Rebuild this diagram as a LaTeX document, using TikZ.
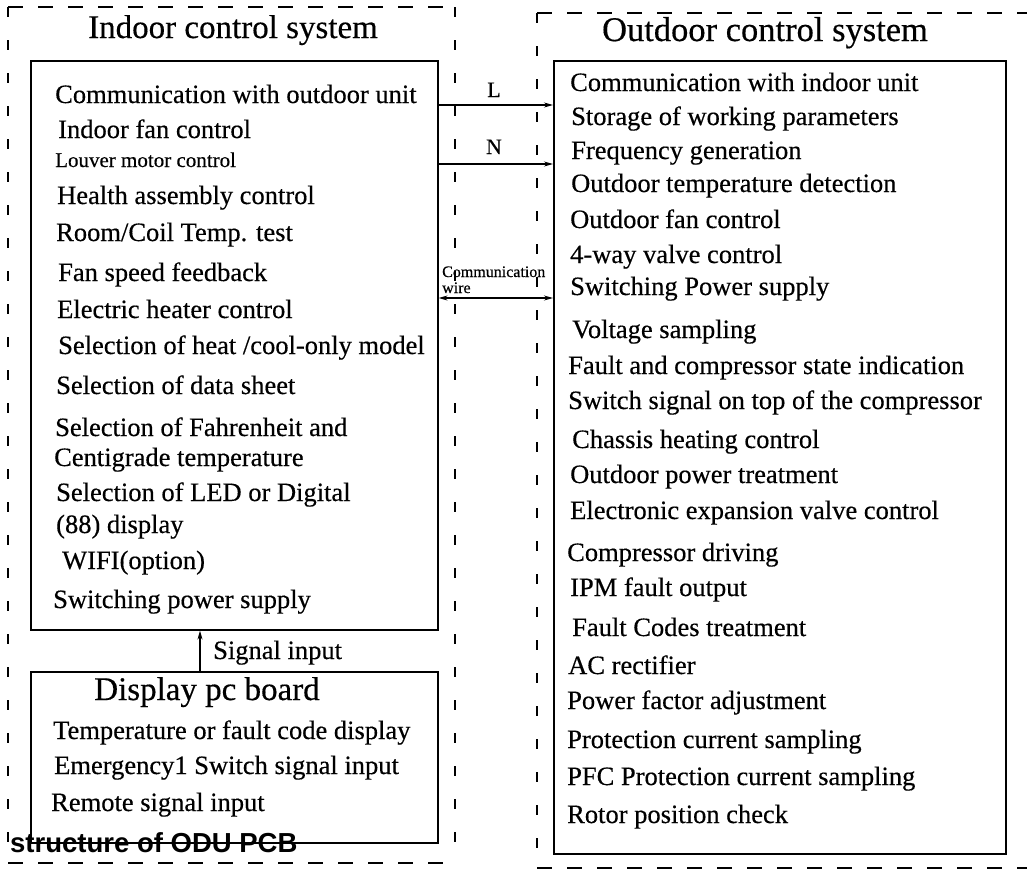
\documentclass[tikz,border=0pt]{standalone}
\usepackage{fontspec}
\setmainfont{Liberation Serif}[FakeBold=0.4]
\newfontfamily\capfont{Liberation Sans}
\usetikzlibrary{arrows.meta}
\begin{document}
\begin{tikzpicture}[x=1pt,y=-1pt,
  item/.style={anchor=base west, inner sep=0pt, font=\fontsize{26.5}{26.5}\selectfont},
  smallitem/.style={anchor=base west, inner sep=0pt, font=\fontsize{21}{21}\selectfont},
  ttl/.style={anchor=base, inner sep=0pt, font=\fontsize{33}{33}\selectfont},
  solidbox/.style={draw, line width=1.6pt, anchor=north west, inner sep=0pt},
  hdash/.style={line width=1.4pt, dash pattern=on 15pt off 15pt},
  vdash/.style={line width=1.4pt, dash pattern=on 10pt off 23pt},
  wire/.style={line width=1.2pt, -{Stealth[length=9pt,width=5pt]}},
  wire2/.style={line width=1.2pt, {Stealth[length=9pt,width=5pt]}-{Stealth[length=9pt,width=5pt]}}
]
\clip (0,0) rectangle (1027,870);
\fill[white] (0,0) rectangle (1027,870);

% dashed system boundaries
\coordinate (inNW) at (8,7);
\coordinate (inSE) at (455,863);
\draw[hdash] (inNW) -- (inNW -| inSE);
\draw[hdash] (inNW |- inSE) -- (inSE);
\draw[vdash] (inNW) -- (inNW |- inSE);
\draw[vdash] (inNW -| inSE) -- (inSE);
\coordinate (outNW) at (537,13);
\coordinate (outSE) at (1045,868);
\draw[hdash] (outNW) -- (outNW -| outSE);
\draw[hdash] (outNW |- outSE) -- (outSE);
\draw[vdash] (outNW) -- (outNW |- outSE);

% titles
\node[ttl] (tin) at (233,38) {Indoor control system};
\node[ttl, font=\fontsize{34.5}{34.5}\selectfont] (tout) at (765,41) {Outdoor control system};

% boxes
\node[solidbox, minimum width=407pt, minimum height=569pt] (inbox) at (30,60) {};
\node[solidbox, minimum width=407pt, minimum height=171pt] (disp) at (30,671) {};
\node[solidbox, minimum width=452pt, minimum height=793pt] (outbox) at (553,60) {};

% indoor items
\node[item] (i1) at (55,103) {Communication with outdoor unit};
\node[item] (i2) at (58,138) {Indoor fan control};
\node[smallitem] (i3) at (55,167) {Louver motor control};
\node[item] (i4) at (57,204) {Health assembly control};
\node[item] (i5) at (56,241) {Room/Coil Temp. test};
\node[item] (i6) at (58,281) {Fan speed feedback};
\node[item] (i7) at (57,318) {Electric heater control};
\node[item] (i8) at (58,354) {Selection of heat /cool-only model};
\node[item] (i9) at (56,394) {Selection of data sheet};
\node[item] (i10) at (55,436) {Selection of Fahrenheit and};
\node[item] (i11) at (54,466) {Centigrade temperature};
\node[item] (i12) at (56,501) {Selection of LED or Digital};
\node[item] (i13) at (56,533) {(88) display};
\node[item] (i14) at (62,569) {WIFI(option)};
\node[item] (i15) at (53,608) {Switching power supply};

% display board
\node[ttl] (dt) at (207,700) {Display pc board};
\node[item] (d1) at (53,739) {Temperature or fault code display};
\node[item] (d2) at (54,774) {Emergency1 Switch signal input};
\node[item] (d3) at (51,811) {Remote signal input};
\draw[wire] (disp.north -| 200,0) -- (inbox.south -| 200,0);
\node[item] (sig) at (213,659) {Signal input};

% outdoor items
\node[item] (o1) at (570,91) {Communication with indoor unit};
\node[item] (o2) at (571,125) {Storage of working parameters};
\node[item] (o3) at (571,159) {Frequency generation};
\node[item] (o4) at (571,192) {Outdoor temperature detection};
\node[item] (o5) at (570,228) {Outdoor fan control};
\node[item] (o6) at (570,263) {4-way valve control};
\node[item] (o7) at (570,295) {Switching Power supply};
\node[item] (o8) at (572,338) {Voltage sampling};
\node[item] (o9) at (568,374) {Fault and compressor state indication};
\node[item] (o10) at (568,409) {Switch signal on top of the compressor};
\node[item] (o11) at (572,448) {Chassis heating control};
\node[item] (o12) at (570,483) {Outdoor power treatment};
\node[item] (o13) at (570,519) {Electronic expansion valve control};
\node[item] (o14) at (567,561) {Compressor driving};
\node[item] (o15) at (570,596) {IPM fault output};
\node[item] (o16) at (572,636) {Fault Codes treatment};
\node[item] (o17) at (568,674) {AC rectifier};
\node[item] (o18) at (567,709) {Power factor adjustment};
\node[item] (o19) at (567,748) {Protection current sampling};
\node[item] (o20) at (567,785) {PFC Protection current sampling};
\node[item] (o21) at (567,823) {Rotor position check};

% connectors between indoor and outdoor
\draw[wire] ([yshift=-45pt]inbox.north east) -- ([yshift=-45pt]outbox.north west);
\draw[wire] ([yshift=-104pt]inbox.north east) -- ([yshift=-104pt]outbox.north west);
\draw[wire2] ([yshift=-238pt]inbox.north east) -- ([yshift=-238pt]outbox.north west);
\node[anchor=base, inner sep=0pt, font=\fontsize{22}{22}\selectfont] (lL) at (494,97) {L};
\node[anchor=base, inner sep=0pt, font=\fontsize{22}{22}\selectfont] (lN) at (494,154) {N};
\node[anchor=base west, inner sep=0pt, font=\fontsize{16}{16}\selectfont] (lc) at (442,277) {Communication};
\node[anchor=base west, inner sep=0pt, font=\fontsize{16}{16}\selectfont] (lw) at (442,293) {wire};

% caption fragment
\node[anchor=base west, inner sep=0pt, font=\capfont\bfseries\fontsize{27.5}{27.5}\selectfont] (cap) at (10,852) {structure of ODU PCB};
\end{tikzpicture}
\end{document}
